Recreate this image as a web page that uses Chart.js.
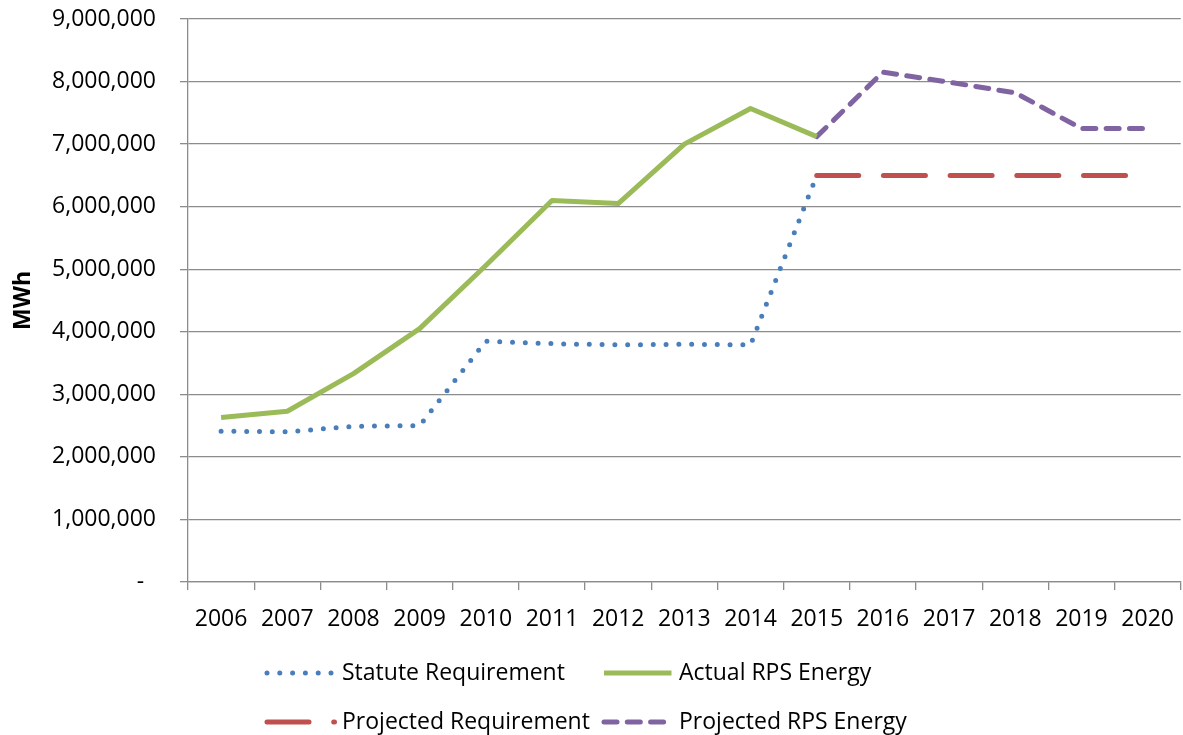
<!DOCTYPE html>
<html lang="en">
<head>
  <meta charset="UTF-8" />
  <title>RPS Energy vs Requirement</title>
  <script src="https://cdn.jsdelivr.net/npm/chart.js"></script>
  <style>
    html, body {
      margin: 0;
      padding: 0;
      background: #fff;
      overflow: hidden;
    }
    #wrap {
      position: relative;
      width: 1190px;
      height: 735px;
    }
  </style>
</head>
<body>
  <div id="wrap"><canvas id="rpsChart"></canvas></div>

  <script>
    // data (MWh)
    const years = ["2006", "2007", "2008", "2009", "2010", "2011", "2012", "2013",
                   "2014", "2015", "2016", "2017", "2018", "2019", "2020"];
    const statuteRequirement = [2410000, 2400000, 2490000, 2500000, 3850000, 3810000, 3790000, 3800000,
                                3790000, 6500000, null, null, null, null, null];
    const actualRpsEnergy = [2630000, 2730000, 3330000, 4050000, 5060000, 6100000, 6050000, 7000000,
                             7570000, 7120000, null, null, null, null, null];
    const projectedRequirement = [null, null, null, null, null, null, null, null,
                                  null, 6500000, 6500000, 6500000, 6500000, 6500000, 6500000];
    const projectedRpsEnergy = [null, null, null, null, null, null, null, null,
                                null, 7120000, 8150000, 7990000, 7820000, 7250000, 7250000];
    const yTicks = [0, 1000000, 2000000, 3000000, 4000000, 5000000, 6000000, 7000000, 8000000, 9000000];

    const FONT = '"Open Sans", "Liberation Sans", sans-serif';
    const GRID = "#8c8c8c";

    // legend drawn under the axis, two rows by two columns like the original
    const lineLegend = {
      id: "lineLegend",
      afterDraw(chart) {
        const ctx = chart.ctx;
        const spots = [[265, 673], [602, 673], [265, 722], [602, 722]];
        chart.data.datasets.forEach((ds, i) => {
          const [x, y] = spots[i];
          ctx.save();
          ctx.strokeStyle = ds.borderColor;
          ctx.lineWidth = ds.borderWidth;
          ctx.lineCap = ds.borderCapStyle || "butt";
          ctx.setLineDash(ds.borderDash || []);
          ctx.beginPath();
          ctx.moveTo(x + 2, y);
          ctx.lineTo(x + 69.5, y);
          ctx.stroke();
          ctx.setLineDash([]);
          ctx.fillStyle = "#000";
          ctx.font = "23px " + FONT;
          ctx.textBaseline = "middle";
          ctx.fillText(ds.label, x + 77, y);
          ctx.restore();
        });
      }
    };

    const ctx = document.getElementById("rpsChart").getContext("2d");
    new Chart(ctx, {
      type: "line",
      data: {
        labels: years,
        datasets: [
          {
            label: "Statute Requirement",
            data: statuteRequirement,
            borderColor: "#4a7ebb",
            borderWidth: 5,
            borderDash: [0, 12.8],
            borderCapStyle: "round",
            pointRadius: 0
          },
          {
            label: "Actual RPS Energy",
            data: actualRpsEnergy,
            borderColor: "#9bbb59",
            borderWidth: 5,
            borderJoinStyle: "round",
            pointRadius: 0
          },
          {
            label: "Projected Requirement",
            data: projectedRequirement,
            borderColor: "#c0504d",
            borderWidth: 5,
            borderDash: [42, 24.7],
            borderCapStyle: "round",
            pointRadius: 0
          },
          {
            label: "Projected RPS Energy",
            data: projectedRpsEnergy,
            borderColor: "#8064a2",
            borderWidth: 5,
            borderDash: [13, 10.3],
            borderCapStyle: "round",
            borderJoinStyle: "round",
            pointRadius: 0
          }
        ]
      },
      options: {
        responsive: true,
        maintainAspectRatio: false,
        animation: false,
        layout: { padding: { top: 19, right: 2, bottom: 0, left: 0 } },
        plugins: {
          legend: { display: false },
          tooltip: { enabled: false }
        },
        scales: {
          x: {
            offset: true,
            grid: {
              offset: true,
              drawOnChartArea: false,
              color: GRID,
              lineWidth: 1.3,
              tickLength: 8
            },
            border: { color: GRID, width: 1.3 },
            ticks: {
              color: "#000",
              font: { family: FONT, size: 23 },
              padding: 16,
              maxRotation: 0,
              autoSkip: false
            },
            afterFit: s => { s.height = 153; }
          },
          y: {
            min: 0,
            max: 9000000,
            afterBuildTicks: s => { s.ticks = yTicks.map(v => ({ value: v })); },
            grid: { color: GRID, lineWidth: 1.3, tickLength: 8 },
            border: { color: GRID, width: 1.3 },
            ticks: {
              color: "#000",
              font: { family: FONT, size: 23 },
              padding: 24,
              callback: v => v === 0 ? "-  " : v.toLocaleString("en-US")
            },
            title: {
              display: true,
              text: "MWh",
              color: "#000",
              font: { family: FONT, size: 23, weight: "bold" },
              padding: { top: 10, bottom: 0 }
            },
            afterFit: s => {
              s.width = 188;
              s.paddingTop = 0;
              s.paddingBottom = 0;
            }
          }
        }
      },
      plugins: [lineLegend]
    });
  </script>
</body>
</html>
